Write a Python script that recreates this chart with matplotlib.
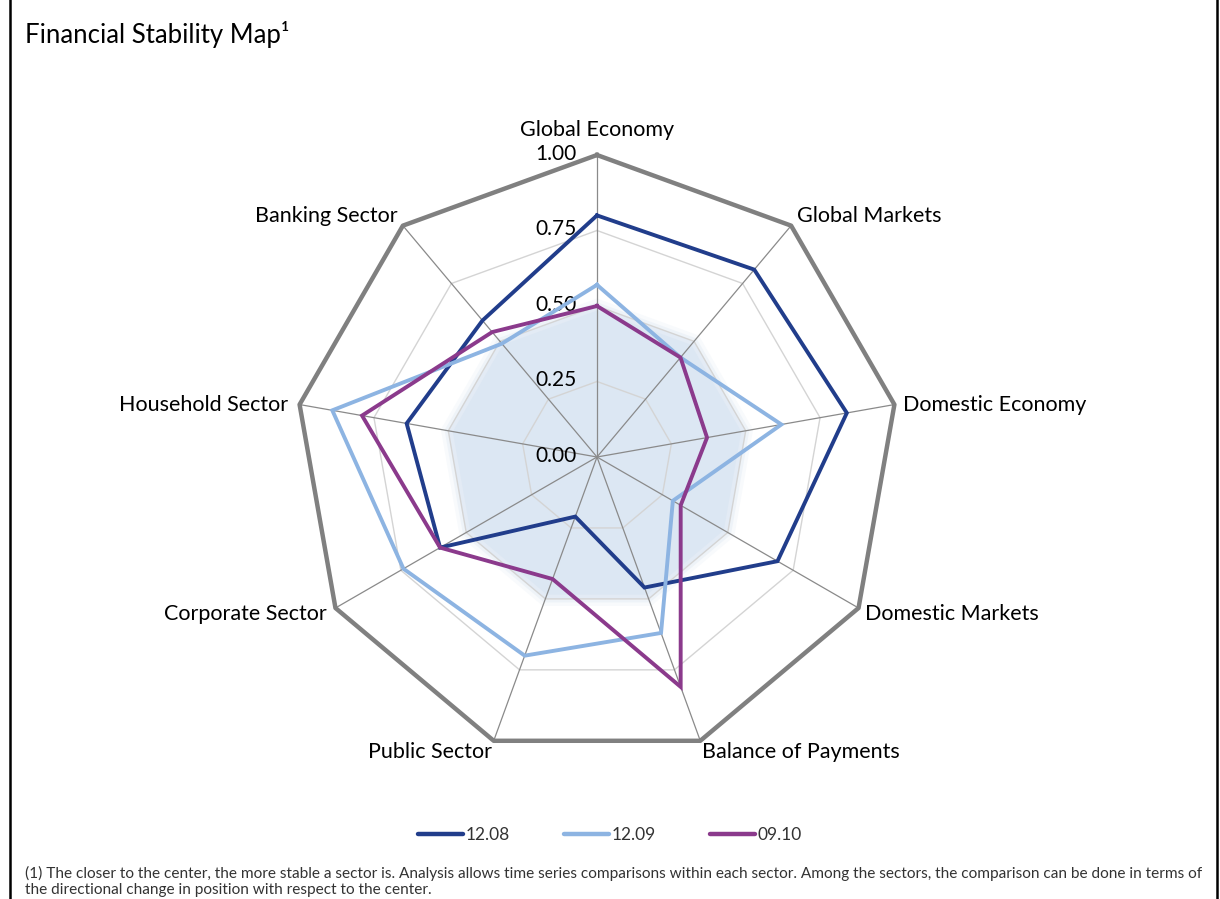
import numpy as np
import matplotlib.pyplot as plt
from matplotlib.lines import Line2D

plt.rcParams['font.family'] = ['Lato', 'DejaVu Sans']

categories = ['Global Economy', 'Global Markets', 'Domestic Economy', 'Domestic Markets',
              'Balance of Payments', 'Public Sector', 'Corporate Sector',
              'Household Sector', 'Banking Sector']
s_1208 = [0.80, 0.81, 0.84, 0.69, 0.46, 0.21, 0.60, 0.64, 0.59]
s_1209 = [0.57, 0.43, 0.62, 0.29, 0.62, 0.70, 0.74, 0.89, 0.49]
s_0910 = [0.50, 0.43, 0.37, 0.32, 0.81, 0.43, 0.60, 0.79, 0.54]
shade = [0.50] * 9
series_names = ['12.08', '12.09', '09.10']
ring_levels = [0.25, 0.50, 0.75, 1.00]
tick_labels = ['0.00', '0.25', '0.50', '0.75', '1.00']

colors = ['#213d8b', '#8db4e2', '#8b3a8c']

n = len(categories)
theta = np.linspace(0, 2 * np.pi, n, endpoint=False)
theta_c = np.append(theta, theta[0])


def closed(v):
    return np.append(v, v[0])


fig = plt.figure(figsize=(12.2, 8.99), dpi=100)
ax = fig.add_axes([295 / 1220, 140 / 899, 604 / 1220, 604 / 899], projection='polar')
ax.set_theta_zero_location('N')
ax.set_theta_direction(-1)
ax.set_ylim(0, 1)
ax.grid(False)
ax.spines['polar'].set_visible(False)
ax.set_xticks([])
ax.set_yticks([])
ax.patch.set_visible(False)

# soft shaded area
for k, a in zip([1.05, 1.025, 1.0, 0.97], [0.2, 0.35, 0.6, 1.0]):
    ax.fill(theta_c, closed(np.array(shade) * k), color='#dce7f3', alpha=a, lw=0, zorder=1)

# grid rings and spokes
for lv in ring_levels:
    if lv < 1:
        ax.plot(theta_c, [lv] * (n + 1), color='#d4d4d4', lw=1.0, zorder=2)
for t in theta:
    ax.plot([t, t], [0, 1], color='#8a8a8a', lw=0.9, zorder=2)
ax.plot(theta_c, [1.0] * (n + 1), color='#808080', lw=3.2, zorder=3, clip_on=False)

for vals, c in zip([s_1208, s_1209, s_0910], colors):
    ax.plot(theta_c, closed(vals), color=c, lw=2.8, zorder=5, clip_on=False,
            solid_joinstyle='miter')

# radial tick labels
for i, lab in enumerate(tick_labels):
    ax.annotate(lab, xy=(0, i * 0.25), xytext=(-15, 1), textcoords='offset points',
                ha='right', va='center', fontsize=15, color='black')

# category labels: (ha, dx, dy) in points
label_pos = [('center', 0, 18), ('left', 4, 7), ('left', 6, 0), ('left', 5, -4),
             ('left', 1, -8), ('right', -1, -8), ('right', -6, -4), ('right', -8, 0),
             ('right', -4, 7)]
for t, lab, (ha, dx, dy) in zip(theta, categories, label_pos):
    ax.annotate(lab, xy=(t, 1.0), xytext=(dx, dy), textcoords='offset points',
                ha=ha, va='center', fontsize=15.5, color='black', annotation_clip=False)

fig.text(25 / 1220, 1 - 35 / 899, 'Financial Stability Map\u00b9', fontsize=18.5,
         ha='left', va='center', color='black')

handles = [Line2D([0], [0], color=c, lw=3.2, solid_capstyle='round') for c in colors]
fig.legend(handles, series_names, loc='center', bbox_to_anchor=(610 / 1220, 1 - 835 / 899),
           ncol=3, frameon=False, fontsize=12.5, handlelength=2.6, handletextpad=0.15,
           columnspacing=3.1, labelcolor='#333333')

fig.text(25 / 1220, 1 - 873 / 899,
         '(1) The closer to the center, the more stable a sector is. Analysis allows time series '
         'comparisons within each sector. Among the sectors, the comparison can be done in terms of',
         fontsize=11.1, ha='left', va='center', color='#333333')
fig.text(25 / 1220, 1 - 890 / 899,
         'the directional change in position with respect to the center.',
         fontsize=11.1, ha='left', va='center', color='#333333')

fig.add_artist(Line2D([10 / 1220, 10 / 1220], [0, 1], color='black', lw=1.8))
fig.add_artist(Line2D([1217 / 1220, 1217 / 1220], [0, 1], color='black', lw=1.8))

fig.savefig('out.png', dpi=100)
